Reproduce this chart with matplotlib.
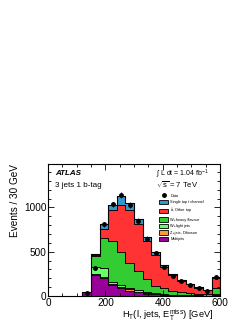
import numpy as np
import matplotlib
matplotlib.use('Agg')
import matplotlib.pyplot as plt

plt.rcParams['font.family'] = ['Liberation Sans', 'DejaVu Sans']
plt.rcParams['mathtext.fontset'] = 'custom'
plt.rcParams['mathtext.rm'] = 'Liberation Sans'
plt.rcParams['mathtext.it'] = 'Liberation Sans:italic'

# 30 GeV bins from 120 to 600 GeV
edges = np.arange(120, 601, 30)

# stacked components (bottom to top), events per bin
multijet = [40, 237, 200, 125, 88, 62, 40, 28, 18, 12, 8, 6, 4, 3, 2, 8]
zjets_diboson = [2, 11, 10, 15, 17, 13, 10, 7, 6, 3, 2, 2, 2, 1, 1, 2]
w_light = [1, 75, 105, 20, 20, 15, 16, 10, 8, 7, 5, 4, 3, 2, 1, 10]
w_heavy = [1, 132, 335, 464, 375, 286, 220, 145, 81, 65, 41, 28, 26, 22, 14, 65]
ttbar_other = [0.5, 7, 102, 346, 530, 599, 526, 430, 347, 241, 178, 130, 97, 66, 46, 115]
single_top_t = [0.5, 10, 63, 56, 98, 70, 60, 50, 42, 19, 11, 7, 8, 8, 8, 15]

data = [30, 312, 808, 1034, 1140, 1030, 849, 649, 491, 325, 226, 166, 128, 87, 60, 215]

components = [multijet, zjets_diboson, w_light, w_heavy, ttbar_other, single_top_t]
colors = ['#990099', '#FF9933', '#66FF66', '#33CC33', '#FF3333', '#3399CC']
labels = ['Multijets', 'Z+jets, Diboson', 'W+light jets', 'W+heavy flavour',
          r'$t\bar{t}$, Other top', 'Single top t channel']

fig = plt.figure(figsize=(2.49, 3.23), dpi=100)
ax = fig.add_axes([0.193, 0.0836, 0.691, 0.4084])

centers = 0.5 * (edges[:-1] + edges[1:])
bottom = np.zeros(len(centers))
handles = []
for vals, c, lab in zip(components, colors, labels):
    vals = np.array(vals, dtype=float)
    h = ax.hist(centers, bins=edges, weights=vals, bottom=bottom, histtype='stepfilled',
                facecolor=c, edgecolor='black', linewidth=0.6, label=lab)
    handles.append(h[2][0])
    bottom = bottom + vals

# total outline
ax.stairs(bottom, edges, color='black', linewidth=0.8)

data = np.array(data, dtype=float)
dh = ax.errorbar(centers, data, yerr=np.sqrt(data), fmt='o', color='black',
                 markersize=2.5, elinewidth=0.6, capsize=0, label='Data')

ax.set_xlim(0, 600)
ax.set_ylim(0, 1490)
ax.set_xticks([0, 200, 400, 600])
ax.set_xticks(np.arange(0, 601, 50), minor=True)
ax.set_yticks([0, 500, 1000])
ax.set_yticks(np.arange(0, 1490, 100), minor=True)
ax.tick_params(which='both', direction='in', top=True, right=True, labelsize=7.2, pad=1.2)
ax.tick_params(which='major', length=4, width=0.6)
ax.tick_params(which='minor', length=2, width=0.6)
for s in ax.spines.values():
    s.set_linewidth(0.8)

ax.set_xlabel(r'H$_{\rm T}$(l, jets, E$_{\rm T}^{\rm miss}$) [GeV]', fontsize=6.7, loc='right', labelpad=0)
ax.xaxis.set_label_coords(0.96, -0.088)
ax.set_ylabel('Events / 30 GeV', fontsize=7.2, loc='top', labelpad=3)

ax.text(0.04, 0.93, 'ATLAS', transform=ax.transAxes, fontsize=5.8,
        fontweight='bold', fontstyle='italic', va='center')
ax.text(0.04, 0.84, '3 jets 1 b-tag', transform=ax.transAxes, fontsize=5.8, va='center')
ax.text(0.63, 0.93, r'$\int$ L dt = 1.04 fb$^{-1}$', transform=ax.transAxes, fontsize=5, va='center')
ax.text(0.63, 0.84, r'$\sqrt{\rm s}$ = 7 TeV', transform=ax.transAxes, fontsize=5.5, va='center')

leg = ax.legend([dh] + handles[::-1], ['Data'] + labels[::-1], loc='upper left',
                bbox_to_anchor=(0.635, 0.79), frameon=False, fontsize=2.8,
                handlelength=2.4, handleheight=1.3, labelspacing=0.55, borderaxespad=0,
                handletextpad=0.5)

fig.savefig('out.png', dpi=100)
